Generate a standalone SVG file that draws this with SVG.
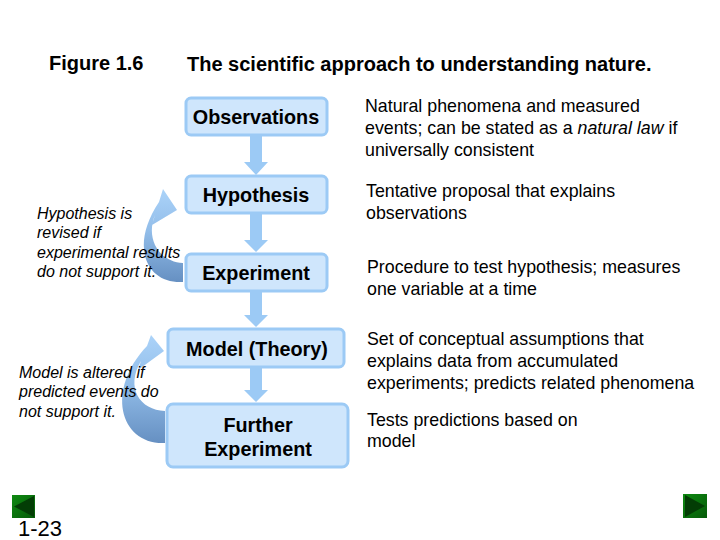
<svg xmlns="http://www.w3.org/2000/svg" width="720" height="540" viewBox="0 0 720 540">
<style>
.box{fill:#cfe6fc;stroke:#9ccaf5;stroke-width:3}
.lbl{font-family:"Liberation Sans",Arial,sans-serif;font-weight:bold;font-size:19.8px;fill:#000;text-anchor:middle}
.desc{font-family:"Liberation Sans",Arial,sans-serif;font-size:17.8px;fill:#000}
.note{font-family:"Liberation Sans",Arial,sans-serif;font-style:italic;font-size:16px;fill:#000}
.title{font-family:"Liberation Sans",Arial,sans-serif;font-weight:bold;font-size:20px;fill:#000}
.flow{fill:#9ccaf5}
</style>
<defs>
<linearGradient id="curve" x1="0" y1="0" x2="0" y2="1">
<stop offset="0" stop-color="#abd3f9"/>
<stop offset="0.45" stop-color="#92bde9"/>
<stop offset="1" stop-color="#6690c2"/>
</linearGradient>
<linearGradient id="btn" x1="0" y1="0" x2="1" y2="1">
<stop offset="0" stop-color="#0f8a12"/>
<stop offset="1" stop-color="#055a08"/>
</linearGradient>
</defs>
<rect width="720" height="540" fill="#fff"/>
<text class="title" x="49" y="70">Figure 1.6</text>
<text class="title" x="187" y="71">The scientific approach to understanding nature.</text>
<g id="connectors">
<path class="flow" d="M250 136 H262 V162 H268 L256 175 L244 162 H250 Z"/>
<path class="flow" d="M250 214 H262 V240 H268 L256 252 L244 240 H250 Z"/>
<path class="flow" d="M250 292 H262 V315 H268 L256 327 L244 315 H250 Z"/>
<path class="flow" d="M250 368 H262 V390 H268 L256 402 L244 390 H250 Z"/>
<path fill="url(#curve)" d="M183 282 C145 284 130 245 159 202 L163 189 L177 210 L152 225 L155 215 C145 240 160 262 183 263 Z"/>
<path fill="url(#curve)" d="M165 443 C120 445 105 390 147 346 L151 335 L164 351 L138 370 L141 361 C125 388 140 410 165 411 Z"/>
</g>
<g id="observations"><rect class="box" x="186" y="98" width="141" height="37" rx="5"/><text class="lbl" x="256" y="124">Observations</text></g>
<g id="hypothesis"><rect class="box" x="186" y="176" width="141" height="37" rx="5"/><text class="lbl" x="256" y="202">Hypothesis</text></g>
<g id="experiment"><rect class="box" x="186" y="254" width="141" height="37" rx="5"/><text class="lbl" x="256" y="280">Experiment</text></g>
<g id="model"><rect class="box" x="168" y="329" width="176" height="38" rx="5"/><text class="lbl" x="257" y="356">Model (Theory)</text></g>
<g id="further"><rect class="box" x="167" y="404" width="181" height="63" rx="6"/><text class="lbl" x="258" y="432">Further</text><text class="lbl" x="258" y="456">Experiment</text></g>
<g id="descriptions">
<text class="desc" x="365" y="112">Natural phenomena and measured</text>
<text class="desc" x="365" y="134">events; can be stated as a <tspan font-style="italic">natural law</tspan> if</text>
<text class="desc" x="365" y="156">universally consistent</text>
<text class="desc" x="366" y="197">Tentative proposal that explains</text>
<text class="desc" x="366" y="219">observations</text>
<text class="desc" x="367" y="273">Procedure to test hypothesis; measures</text>
<text class="desc" x="367" y="295">one variable at a time</text>
<text class="desc" x="367" y="345">Set of conceptual assumptions that</text>
<text class="desc" x="367" y="367">explains data from accumulated</text>
<text class="desc" x="367" y="389">experiments; predicts related phenomena</text>
<text class="desc" x="367" y="426">Tests predictions based on</text>
<text class="desc" x="367" y="447">model</text>
</g>
<g id="notes">
<text class="note" x="37" y="219">Hypothesis is</text>
<text class="note" x="37" y="238">revised if</text>
<text class="note" x="37" y="258">experimental results</text>
<text class="note" x="37" y="277">do not support it.</text>
<text class="note" x="19" y="378">Model is altered if</text>
<text class="note" x="19" y="397">predicted events do</text>
<text class="note" x="19" y="417">not support it.</text>
</g>
<g id="nav-prev"><rect x="12" y="495" width="23" height="23" fill="url(#btn)"/><path d="M14 506.5 L34 496 L34 517 Z" fill="#033d05"/></g>
<g id="nav-next"><rect x="683" y="494" width="24" height="24" fill="url(#btn)"/><path d="M705 506 L685 495 L685 517 Z" fill="#033d05"/></g>
<text x="18" y="536" font-family="Liberation Sans, Arial, sans-serif" font-size="22" fill="#000">1-23</text>
</svg>
